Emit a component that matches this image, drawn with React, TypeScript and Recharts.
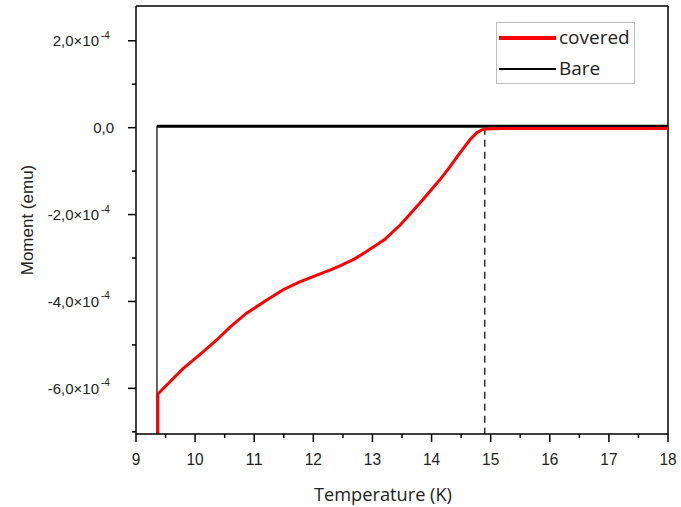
import React from 'react'
import { LineChart, Line, XAxis, YAxis, ReferenceLine, Legend } from 'recharts'

// moments are in units of 1e-4 emu
const coveredTemperature = [
  9.37, 9.37, 9.5, 9.8, 10.1, 10.37, 10.6, 10.87, 11.2, 11.49, 11.77, 12.05, 12.28, 12.45,
  12.7, 12.9, 13.2, 13.47, 13.8, 14.14, 14.3, 14.48, 14.65, 14.76, 14.85, 14.93, 15.2, 16, 17, 18,
]
const coveredMoment = [
  -7.5, -6.13, -5.95, -5.54, -5.2, -4.88, -4.58, -4.27, -3.98, -3.73, -3.55, -3.4, -3.28, -3.18,
  -3.02, -2.85, -2.58, -2.24, -1.74, -1.2, -0.92, -0.58, -0.28, -0.12, -0.05, -0.03, -0.02, -0.02,
  -0.02, -0.02,
]
const bareTemperature = [9.355, 9.355, 12, 15, 18]
const bareMoment = [-7.5, 0.03, 0.03, 0.03, 0.03]

const xTicks = [9, 9.5, 10, 10.5, 11, 11.5, 12, 12.5, 13, 13.5, 14, 14.5, 15, 15.5, 16, 16.5, 17, 17.5, 18]
const xLabels = [9, 10, 11, 12, 13, 14, 15, 16, 17, 18]
const yTicks = [-7, -6, -5, -4, -3, -2, -1, 0, 1, 2]
const yLabels = [-6, -4, -2, 0, 2]
const transitionT = 14.9

const yDomain: [number, number] = [-7.05, 2.8]

const covered = coveredTemperature.map((t, i) => ({ t, m: coveredMoment[i] }))
const bare = bareTemperature.map((t, i) => ({ t, m: bareMoment[i] }))
const barePlateau = bare.slice(1)

const tickFont = '"Liberation Sans", Arial, sans-serif'
const titleFont = '"Open Sans", sans-serif'

function XTick(props: any) {
  const { x, y, payload } = props
  const major = xLabels.includes(payload.value)
  return (
    <g>
      <line x1={x} x2={x} y1={y} y2={y + (major ? 8 : 4)} stroke="#000" strokeWidth={1.5} />
      {major && (
        <text
          x={x}
          y={y + 31}
          textAnchor="middle"
          fontSize={17}
          textLength={String(payload.value).length * 8.6}
          lengthAdjust="spacingAndGlyphs"
          fontFamily={tickFont}
          fill="#222"
        >
          {payload.value}
        </text>
      )}
    </g>
  )
}

function YTick(props: any) {
  const { x, y, payload } = props
  const v = payload.value
  const major = yLabels.includes(v)
  const mant = (v < 0 ? '-' : '') + Math.abs(v).toFixed(1).replace('.', ',')
  return (
    <g>
      <line x1={x} x2={x - (major ? 8 : 4)} y1={y} y2={y} stroke="#000" strokeWidth={1.5} />
      {major && v === 0 && (
        <text x={x - 22} y={y + 5.5} textAnchor="end" fontSize={15} fontFamily={tickFont} fill="#222">
          {mant}
        </text>
      )}
      {major && v !== 0 && (
        <g fontFamily={tickFont} fill="#222">
          <text x={x - 37} y={y + 5.5} textAnchor="end" fontSize={15}>
            {mant}×10
          </text>
          <text x={x - 35} y={y - 2} textAnchor="start" fontSize={10}>
            -4
          </text>
        </g>
      )}
    </g>
  )
}

function LegendBox() {
  return (
    <div
      style={{
        width: 137,
        height: 60,
        border: '1px solid #bdbdbd',
        background: '#fff',
        fontFamily: titleFont,
        fontSize: 19,
        color: '#222',
        position: 'relative',
        textAlign: 'left',
      }}
    >
      <div style={{ position: 'absolute', left: 2, top: 13, width: 57, height: 4, background: '#ff0000' }} />
      <div style={{ position: 'absolute', left: 62, top: 2, lineHeight: '24px' }}>covered</div>
      <div style={{ position: 'absolute', left: 2, top: 45, width: 57, height: 1.5, background: '#000' }} />
      <div style={{ position: 'absolute', left: 62, top: 33, lineHeight: '24px' }}>Bare</div>
    </div>
  )
}

export default function App() {
  return (
    <div style={{ position: 'absolute', left: 0, top: 0, background: '#fff' }}>
      <LineChart width={681} height={507} margin={{ top: 6, right: 13, bottom: 0, left: 0 }}>
        <XAxis
          type="number"
          dataKey="t"
          domain={[9, 18]}
          ticks={xTicks}
          tick={<XTick />}
          tickLine={false}
          tickSize={0}
          tickMargin={0}
          height={73}
          interval={0}
          axisLine={{ stroke: '#000', strokeWidth: 1.5 }}
          allowDataOverflow
          label={{
            content: () => (
              <text
                x={383}
                y={501}
                textAnchor="middle"
                fontSize={19}
                textLength={138}
                lengthAdjust="spacingAndGlyphs"
                fontFamily={titleFont}
                fill="#222"
              >
                Temperature (K)
              </text>
            ),
          }}
        />
        <YAxis
          type="number"
          dataKey="m"
          domain={yDomain}
          ticks={yTicks}
          tick={<YTick />}
          tickLine={false}
          tickSize={0}
          tickMargin={0}
          width={136}
          interval={0}
          axisLine={{ stroke: '#000', strokeWidth: 1.5 }}
          allowDataOverflow
          label={{
            content: () => (
              <text
                x={33}
                y={220}
                transform="rotate(-90 33 220)"
                textAnchor="middle"
                fontSize={17}
                fontFamily={tickFont}
                fill="#222"
              >
                Moment (emu)
              </text>
            ),
          }}
        />
        <ReferenceLine y={yDomain[1]} stroke="#000" strokeWidth={1.5} />
        <ReferenceLine x={18} stroke="#000" strokeWidth={1.5} />
        <ReferenceLine
          segment={[
            { x: transitionT, y: 0 },
            { x: transitionT, y: yDomain[0] },
          ]}
          stroke="#333"
          strokeWidth={1.5}
          strokeDasharray="7 5"
        />
        <Line
          data={bare}
          dataKey="m"
          name="Bare"
          stroke="#000"
          strokeWidth={1.2}
          dot={false}
          type="linear"
          isAnimationActive={false}
        />
        <Line
          data={barePlateau}
          dataKey="m"
          name="Bare plateau"
          legendType="none"
          stroke="#000"
          strokeWidth={3}
          dot={false}
          type="linear"
          isAnimationActive={false}
        />
        <Line
          data={covered}
          dataKey="m"
          name="covered"
          stroke="#ff0000"
          strokeWidth={3}
          dot={false}
          type="linear"
          isAnimationActive={false}
        />
        <Legend
          content={<LegendBox />}
          layout="horizontal"
          align="center"
          verticalAlign="middle"
          wrapperStyle={{ left: 496, top: 22, width: 139, height: 62 }}
        />
      </LineChart>
    </div>
  )
}
